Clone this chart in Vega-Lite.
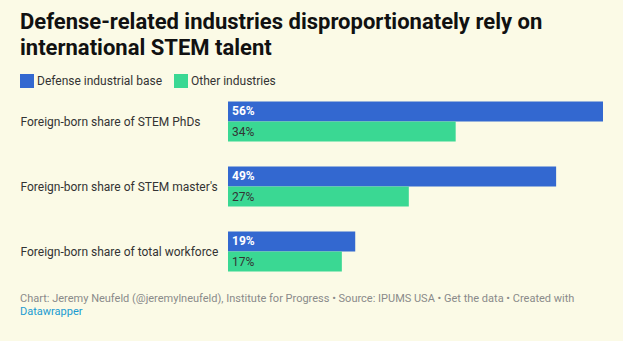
{
  "$schema": "https://vega.github.io/schema/vega-lite/v6.json",
  "background": "#fbfae6",
  "padding": {"left": 20, "right": 20, "top": 11, "bottom": 24},
  "config": {"view": {"stroke": null}, "font": "Roboto"},
  "title": {
    "text": ["Defense-related industries disproportionately rely on", "international STEM talent"],
    "anchor": "start",
    "frame": "bounds",
    "font": "Roboto",
    "fontSize": 22,
    "fontWeight": "bold",
    "color": "#111111",
    "lineHeight": 26,
    "offset": 14
  },
  "datasets": {
    "shares": [
      {"category": "Foreign-born share of STEM PhDs", "group": "Defense industrial base", "value": 0.56},
      {"category": "Foreign-born share of STEM PhDs", "group": "Other industries", "value": 0.34},
      {"category": "Foreign-born share of STEM master's", "group": "Defense industrial base", "value": 0.49},
      {"category": "Foreign-born share of STEM master's", "group": "Other industries", "value": 0.27},
      {"category": "Foreign-born share of total workforce", "group": "Defense industrial base", "value": 0.19},
      {"category": "Foreign-born share of total workforce", "group": "Other industries", "value": 0.17}
    ]
  },
  "vconcat": [
    {
      "width": 375,
      "height": 195,
      "title": {
        "text": "Chart: Jeremy Neufeld (@jeremylneufeld), Institute for Progress • Source: IPUMS USA • Get the data • Created with",
        "subtitle": "Datawrapper",
        "orient": "bottom",
        "anchor": "start",
        "frame": "bounds",
        "font": "Roboto",
        "fontSize": 11,
        "fontWeight": "normal",
        "color": "#8a8a8a",
        "subtitleFont": "Roboto",
        "subtitleFontSize": 11,
        "subtitleColor": "#1a9bd1",
        "subtitlePadding": 2,
        "offset": 9
      },
      "data": {"name": "shares"},
      "encoding": {
        "y": {
          "field": "category",
          "type": "nominal",
          "sort": null,
          "scale": {"paddingInner": 0.3846, "paddingOuter": 0.1923},
          "axis": {
            "title": null,
            "domain": false,
            "ticks": false,
            "labelAlign": "left",
            "labelPadding": 208,
            "labelFont": "Roboto",
            "labelFontSize": 12,
            "labelColor": "#333333",
            "labelLimit": 300
          }
        },
        "yOffset": {
          "field": "group",
          "type": "nominal",
          "sort": ["Defense industrial base", "Other industries"],
          "scale": {"paddingInner": 0, "paddingOuter": 0}
        }
      },
      "layer": [
        {
          "mark": {"type": "bar"},
          "encoding": {
            "x": {
              "field": "value",
              "type": "quantitative",
              "scale": {"domain": [0, 0.56], "nice": false, "zero": true},
              "axis": null
            },
            "color": {
              "field": "group",
              "type": "nominal",
              "scale": {"domain": ["Defense industrial base", "Other industries"], "range": ["#3368d0", "#3ad893"]},
              "legend": {
                "title": null,
                "orient": "none",
                "legendX": -208,
                "legendY": -15,
                "direction": "horizontal",
                "symbolType": "square",
                "symbolSize": 196,
                "symbolStrokeWidth": 0,
                "symbolOpacity": 1,
                "labelFont": "Roboto",
                "labelFontSize": 12,
                "labelColor": "#333333",
                "labelOffset": 3,
                "columnPadding": 11
              }
            }
          }
        },
        {
          "transform": [{"filter": "datum.group === 'Defense industrial base'"}],
          "mark": {"type": "text", "align": "left", "baseline": "middle", "dx": 4, "font": "Roboto", "fontSize": 12, "fontWeight": "bold", "color": "#ffffff"},
          "encoding": {
            "x": {"datum": 0, "type": "quantitative"},
            "text": {"field": "value", "type": "quantitative", "format": ".0%"}
          }
        },
        {
          "transform": [{"filter": "datum.group === 'Other industries'"}],
          "mark": {"type": "text", "align": "left", "baseline": "middle", "dx": 4, "font": "Roboto", "fontSize": 12, "fontWeight": "normal", "color": "#333333"},
          "encoding": {
            "x": {"datum": 0, "type": "quantitative"},
            "text": {"field": "value", "type": "quantitative", "format": ".0%"}
          }
        }
      ]
    }
  ]
}
